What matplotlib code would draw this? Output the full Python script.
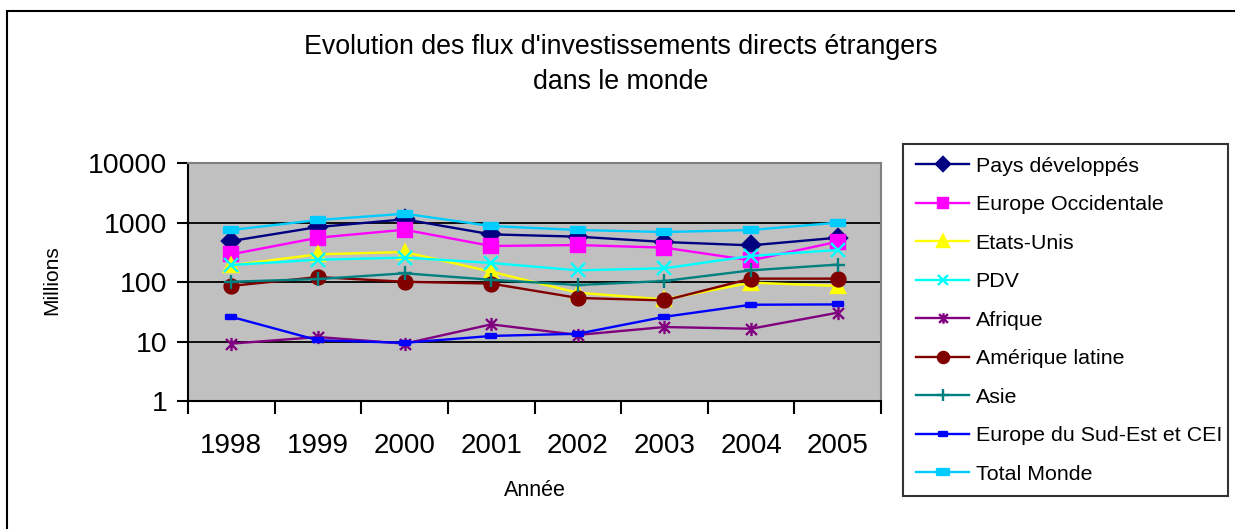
import matplotlib
matplotlib.use("Agg")
import matplotlib.pyplot as plt
from matplotlib.path import Path
from matplotlib.patches import Rectangle
from matplotlib.ticker import FixedLocator, NullFormatter, FixedFormatter

plt.rcParams['font.family'] = ['Liberation Sans', 'DejaVu Sans']

years = ['1998', '1999', '2000', '2001', '2002', '2003', '2004', '2005']

pays_developpes = [489, 840, 1130, 632, 578, 470, 413, 555]
europe_occidentale = [292, 555, 757, 403, 418, 378, 231, 476]
etats_unis = [191, 292, 319, 149, 66, 51, 97.5, 86]
pdv = [193, 237, 257, 209, 157, 170, 274, 345]
afrique = [9.2, 11.9, 9.2, 19.4, 12.9, 17.5, 16.4, 30.5]
amerique_latine = [86, 121, 101, 94, 54, 49, 114, 114]
asie = [101, 112, 140, 109, 89, 104, 157, 196]
europe_se_cei = [26, 10.5, 9.5, 12.4, 13.5, 26, 41.5, 42]
total_monde = [748, 1100, 1405, 872, 748, 692, 748, 993]

# marker shapes used by the old spreadsheet chart
dash_marker = Path([(-1, -0.5), (1, -0.5), (1, 0.5), (-1, 0.5), (-1, -0.5)],
                   [Path.MOVETO, Path.LINETO, Path.LINETO, Path.LINETO, Path.CLOSEPOLY])
star_marker = Path([(-1, -1), (1, 1), (-1, 1), (1, -1), (0, -1.2), (0, 1.2)],
                   [Path.MOVETO, Path.LINETO, Path.MOVETO, Path.LINETO, Path.MOVETO, Path.LINETO])

series = [
    ('Pays développés', pays_developpes, '#000080', 'D', 9, '#000080'),
    ('Europe Occidentale', europe_occidentale, '#FF00FF', 's', 9.5, '#FF00FF'),
    ('Etats-Unis', etats_unis, '#FFFF00', '^', 10.5, '#FFFF00'),
    ('PDV', pdv, '#00FFFF', 'x', 9.5, '#00FFFF'),
    ('Afrique', afrique, '#800080', star_marker, 9.5, '#800080'),
    ('Amérique latine', amerique_latine, '#800000', 'o', 10, '#800000'),
    ('Asie', asie, '#008080', '+', 10.5, '#008080'),
    ('Europe du Sud-Est et CEI', europe_se_cei, '#0000FF', dash_marker, 7, '#0000FF'),
    ('Total Monde', total_monde, '#00CCFF', dash_marker, 10, '#00CCFF'),
]

W, H = 1235, 529
fig = plt.figure(figsize=(W / 100, H / 100), dpi=100)

# outer chart frame (cut off at right and bottom in the original)
fig.add_artist(Rectangle((7 / W, -0.1), 1.2, 1 - 11 / H + 0.1, transform=fig.transFigure,
                         fill=False, edgecolor='black', linewidth=1.5))

ax = fig.add_axes([188 / W, 1 - 401 / H, 693 / W, 238 / H])
ax.set_facecolor('#C0C0C0')

x = list(range(len(years)))
for label, vals, color, marker, ms, mcolor in series:
    ax.plot(x, vals, color=color, linewidth=1.7, marker=marker, markersize=ms,
            markerfacecolor=mcolor, markeredgecolor=mcolor, markeredgewidth=1.7,
            label=label)

ax.set_yscale('log')
ax.set_ylim(1, 10000)
ax.set_xlim(-0.5, 7.5)

ax.yaxis.set_major_locator(FixedLocator([1, 10, 100, 1000, 10000]))
ax.yaxis.set_major_formatter(FixedFormatter(['1', '10', '100', '1000', '10000']))
ax.yaxis.set_minor_locator(FixedLocator([]))
ax.tick_params(axis='y', which='major', direction='out', length=8, width=1.5,
               labelsize=20.5, pad=7)

ax.xaxis.set_major_locator(FixedLocator([i - 0.5 for i in range(len(years) + 1)]))
ax.xaxis.set_major_formatter(NullFormatter())
ax.xaxis.set_minor_locator(FixedLocator(x))
ax.xaxis.set_minor_formatter(FixedFormatter(years))
ax.tick_params(axis='x', which='major', direction='out', length=9, width=1.5)
ax.tick_params(axis='x', which='minor', length=0, labelsize=20, pad=23)

for yv in [10, 100, 1000]:
    ax.axhline(yv, color='black', linewidth=1.3, zorder=1)

for side in ['left', 'bottom']:
    ax.spines[side].set_color('black')
    ax.spines[side].set_linewidth(1.5)
for side in ['top', 'right']:
    ax.spines[side].set_color('#808080')
    ax.spines[side].set_linewidth(1.5)

fig.text(52 / W, 1 - 280 / H, 'Millions', rotation=90, ha='center', va='center', fontsize=15)
fig.text(535 / W, 1 - 490 / H, 'Année', ha='center', va='center', fontsize=15.5)

fig.text(621 / W, 1 - 47 / H, "Evolution des flux d'investissements directs étrangers",
         ha='center', va='center', fontsize=19.3)
fig.text(621 / W, 1 - 82 / H, 'dans le monde', ha='center', va='center', fontsize=19.3)

leg = fig.legend(loc='upper left',
                 bbox_to_anchor=(903 / W, 1 - 144 / H, 325 / W, 0.0),
                 mode='expand', fontsize=15.4, frameon=True, fancybox=False,
                 edgecolor='black', handlelength=2.5, handletextpad=0.3,
                 labelspacing=0.91, borderpad=0.6, borderaxespad=0)
leg.get_frame().set_linewidth(1.5)
for h in leg.legend_handles:
    h.set_markersize(h.get_markersize() * 0.8)

fig.savefig('out.png', dpi=100)
